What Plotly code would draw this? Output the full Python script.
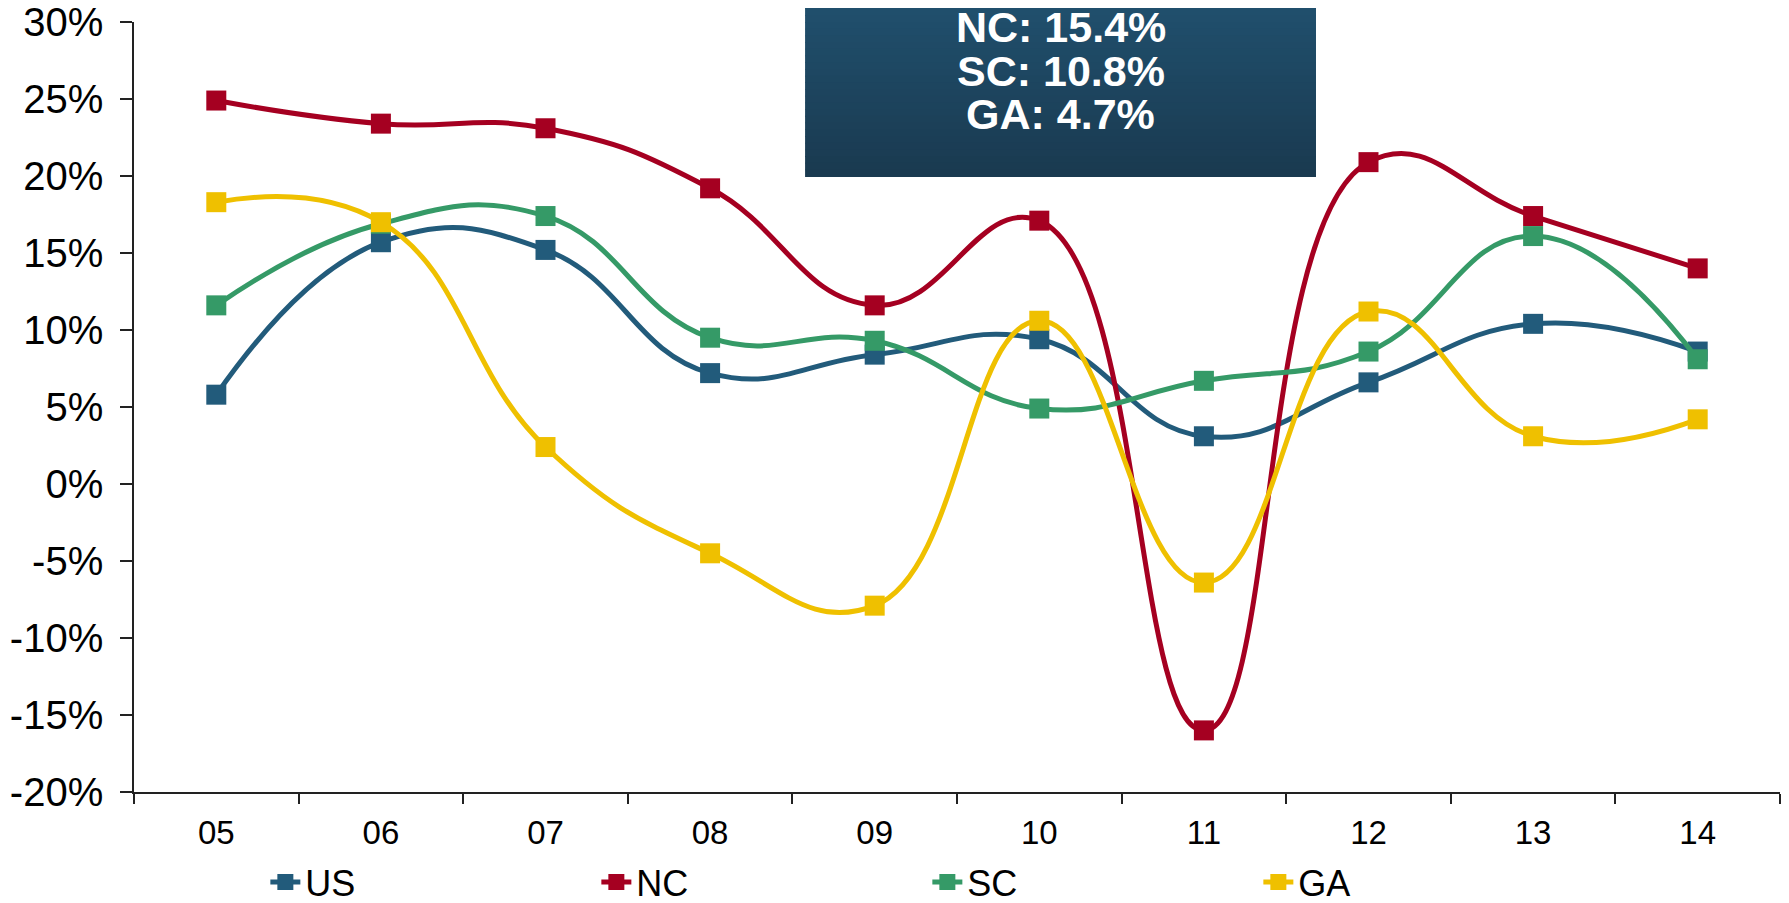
import plotly.graph_objects as go

years = ["05", "06", "07", "08", "09", "10", "11", "12", "13", "14"]
us = [5.8, 15.7, 15.2, 7.2, 8.4, 9.4, 3.1, 6.6, 10.4, 8.6]
nc = [24.9, 23.4, 23.1, 19.2, 11.6, 17.1, -16.0, 20.9, 17.4, 14.0]
sc = [11.6, 16.9, 17.4, 9.5, 9.3, 4.9, 6.7, 8.6, 16.1, 8.1]
ga = [18.3, 17.0, 2.4, -4.5, -7.9, 10.6, -6.4, 11.2, 3.1, 4.2]

y_ticks = [-20, -15, -10, -5, 0, 5, 10, 15, 20, 25, 30]
y_labels = ["-20%", "-15%", "-10%", "-5%", "0%", "5%", "10%", "15%", "20%", "25%", "30%"]

box_lines = ["US: 9.6%", "NC: 15.4%", "SC: 10.8%", "GA: 4.7%"]

series = [
    ("US", us, "#225b7b"),
    ("NC", nc, "#a50021"),
    ("SC", sc, "#359a67"),
    ("GA", ga, "#efc000"),
]

FONT = "Liberation Sans, Arial, sans-serif"

fig = go.Figure()
for name, vals, color in series:
    fig.add_trace(go.Scatter(
        x=years, y=vals, name=name, mode="lines+markers",
        line=dict(color=color, width=5, shape="spline", smoothing=1.3),
        marker=dict(symbol="square", size=20, color=color),
    ))

# gradient box (top-center)
bx0, bx1 = 0.4077, 0.7181
by0, by1 = 0.7987, 1.06
n = 30
c_top = (0x21, 0x53, 0x72)
c_bot = (0x1a, 0x3a, 0x50)
shapes = []
for i in range(n):
    t = i / (n - 1)
    col = tuple(int(round(c_top[k] + (c_bot[k] - c_top[k]) * t)) for k in range(3))
    ya = by1 - (by1 - by0) * i / n
    yb = by1 - (by1 - by0) * (i + 1) / n
    shapes.append(dict(type="rect", xref="paper", yref="paper",
                       x0=bx0, x1=bx1, y0=yb, y1=ya + 0.001,
                       fillcolor="rgb(%d,%d,%d)" % col, line=dict(width=0),
                       layer="above"))

annotations = []
line_y = [1.0440, 0.9935, 0.9362, 0.8800]
for txt, yy in zip(box_lines, line_y):
    annotations.append(dict(
        text="<b>%s</b>" % txt, xref="paper", yref="paper",
        x=(bx0 + bx1) / 2, y=yy, xanchor="center", yanchor="middle",
        showarrow=False, font=dict(family=FONT, size=43, color="white"),
    ))

fig.update_layout(
    width=1781, height=895,
    margin=dict(l=126, r=9, t=14, b=111, autoexpand=False),
    paper_bgcolor="white", plot_bgcolor="white",
    font=dict(family=FONT, color="black"),
    shapes=shapes, annotations=annotations,
    showlegend=True,
    legend=dict(
        orientation="h", xref="container", yref="container",
        x=0.1445, xanchor="left", y=0.0570, yanchor="top",
        font=dict(family=FONT, size=36, color="black"),
        entrywidth=286, entrywidthmode="pixels",
        bgcolor="rgba(0,0,0,0)", itemclick=False,
    ),
    xaxis=dict(
        type="category", range=[-0.5, 9.5], tickson="boundaries",
        ticks="outside", ticklen=10, tickwidth=1.5, tickcolor="#222",
        showline=True, linewidth=2, linecolor="#222",
        showgrid=False, zeroline=False,
        tickfont=dict(family=FONT, size=33, color="black"),
        ticklabelstandoff=10, ticklabeloverflow="allow",
    ),
    yaxis=dict(
        range=[-20, 30], tickvals=y_ticks, ticktext=y_labels,
        ticks="outside", ticklen=12, tickwidth=1.5, tickcolor="#222",
        showline=True, linewidth=1.5, linecolor="#222",
        showgrid=False, zeroline=False,
        tickfont=dict(family=FONT, size=40, color="black"),
        ticklabelstandoff=9, ticklabeloverflow="allow",
    ),
)

fig.write_html("out.html")
